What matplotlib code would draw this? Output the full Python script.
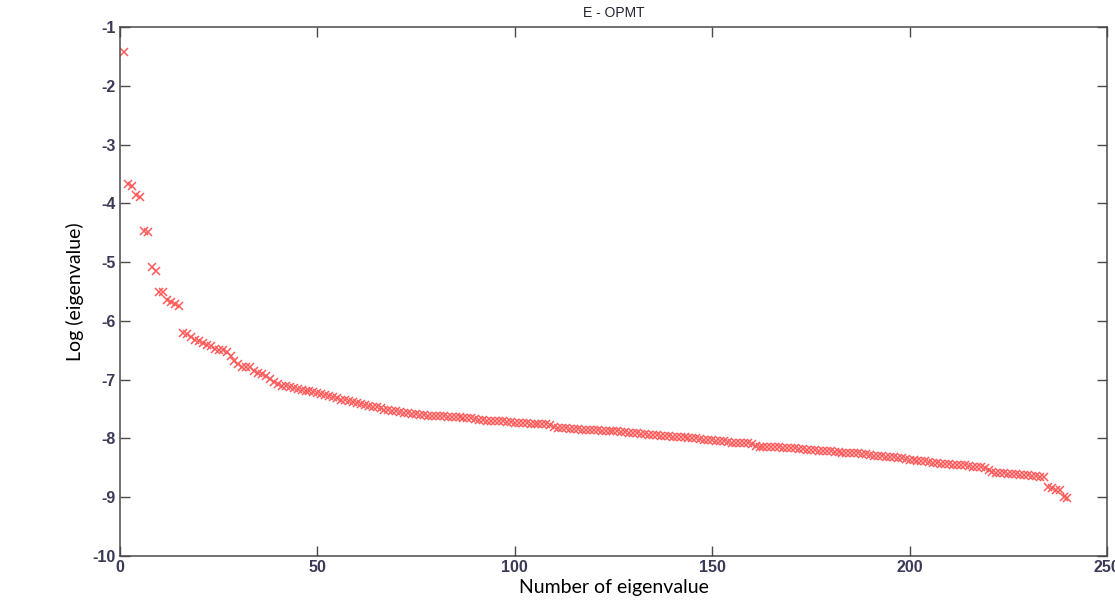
import matplotlib
matplotlib.use("Agg")
import matplotlib.pyplot as plt

plt.rcParams["axes.unicode_minus"] = False

# log eigenvalues, in order (index 1..240)
log_eig = [
    -1.42, -3.67, -3.70, -3.86, -3.89, -4.47, -4.49, -5.09, -5.15, -5.50,
    -5.51, -5.65, -5.67, -5.72, -5.75, -6.21, -6.23, -6.27, -6.32, -6.35,
    -6.38, -6.41, -6.43, -6.47, -6.49, -6.50, -6.53, -6.60, -6.68, -6.74,
    -6.78, -6.78, -6.79, -6.85, -6.88, -6.90, -6.93, -6.98, -7.04, -7.07,
    -7.10, -7.11, -7.12, -7.14, -7.16, -7.17, -7.19, -7.20, -7.21, -7.23,
    -7.24, -7.26, -7.27, -7.29, -7.31, -7.34, -7.35, -7.37, -7.38, -7.40,
    -7.41, -7.43, -7.44, -7.46, -7.47, -7.49, -7.51, -7.52, -7.53, -7.54,
    -7.55, -7.56, -7.57, -7.58, -7.59, -7.60, -7.60, -7.61, -7.61, -7.62,
    -7.62, -7.62, -7.63, -7.63, -7.64, -7.64, -7.65, -7.65, -7.66, -7.67,
    -7.68, -7.69, -7.70, -7.70, -7.70, -7.70, -7.71, -7.72, -7.72, -7.73,
    -7.73, -7.74, -7.74, -7.75, -7.75, -7.75, -7.76, -7.76, -7.77, -7.80,
    -7.82, -7.83, -7.83, -7.84, -7.84, -7.84, -7.85, -7.85, -7.85, -7.86,
    -7.86, -7.87, -7.87, -7.88, -7.88, -7.88, -7.89, -7.89, -7.90, -7.90,
    -7.91, -7.92, -7.93, -7.94, -7.94, -7.94, -7.95, -7.95, -7.96, -7.97,
    -7.97, -7.98, -7.98, -7.99, -8.00, -8.00, -8.01, -8.02, -8.02, -8.03,
    -8.04, -8.05, -8.05, -8.06, -8.07, -8.07, -8.07, -8.08, -8.08, -8.09,
    -8.12, -8.14, -8.14, -8.14, -8.15, -8.15, -8.15, -8.16, -8.16, -8.17,
    -8.17, -8.18, -8.18, -8.19, -8.20, -8.20, -8.21, -8.21, -8.22, -8.22,
    -8.23, -8.23, -8.24, -8.24, -8.25, -8.25, -8.25, -8.26, -8.27, -8.28,
    -8.29, -8.30, -8.30, -8.31, -8.31, -8.32, -8.33, -8.34, -8.35, -8.36,
    -8.37, -8.38, -8.39, -8.39, -8.40, -8.41, -8.42, -8.43, -8.44, -8.44,
    -8.45, -8.45, -8.46, -8.46, -8.47, -8.48, -8.48, -8.49, -8.50, -8.54,
    -8.57, -8.58, -8.58, -8.59, -8.60, -8.61, -8.61, -8.62, -8.62, -8.63,
    -8.64, -8.64, -8.65, -8.66, -8.83, -8.85, -8.87, -8.88, -8.99, -9.02,
]
eig_num = list(range(1, len(log_eig) + 1))

x_ticks = [0, 50, 100, 150, 200, 250]
y_ticks = [-10, -9, -8, -7, -6, -5, -4, -3, -2, -1]

tick_color = "#3a3a58"
spine_color = "#4a4a4a"

fig = plt.figure(figsize=(11.15, 6.0), dpi=100)
ax = fig.add_axes([0.1076, 0.0733, 0.8852, 0.8817])

ax.plot(eig_num, log_eig, linestyle="none", marker="x", markersize=6,
        markeredgewidth=1.1, color="#ff5a5a")

ax.set_xlim(0, 250)
ax.set_ylim(-10, -1)
ax.set_xticks(x_ticks)
ax.set_yticks(y_ticks)
ax.tick_params(direction="in", length=7, width=1.0, color=spine_color,
               top=True, right=True, labelsize=11.5, labelcolor=tick_color,
               pad=3)
for lab in ax.get_xticklabels() + ax.get_yticklabels():
    lab.set_fontfamily("Liberation Sans")
    lab.set_fontweight("bold")
for s in ax.spines.values():
    s.set_color(spine_color)
    s.set_linewidth(1.1)

ax.set_title("E - OPMT", fontsize=10, family="Liberation Sans",
             color="#222233", pad=7)
ax.set_xlabel("Number of eigenvalue", fontsize=14, family="Lato", labelpad=3)
ax.set_ylabel("Log (eigenvalue)", fontsize=14, family="Lato", labelpad=6)

fig.savefig("out.png", dpi=100)
